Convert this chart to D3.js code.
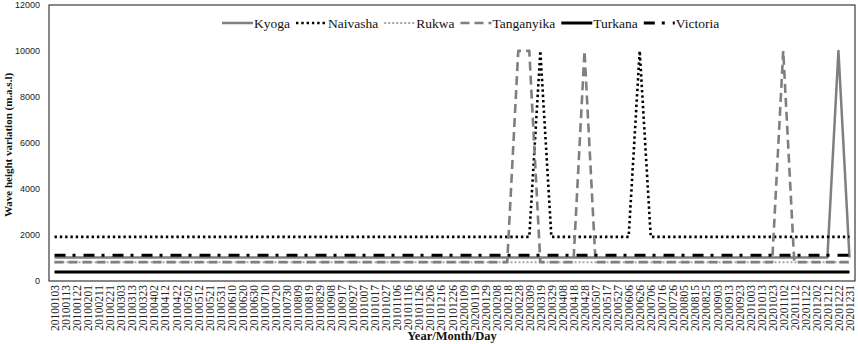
<!DOCTYPE html>
<html>
<head>
<meta charset="utf-8">
<script src="https://cdn.jsdelivr.net/npm/d3@7"></script>
<style>
  body { margin: 0; background: #fff; }
  svg { display: block; }
</style>
</head>
<body>
<div id="main"></div>
<script>
// x categories (tick labels, one per data point)
var dates = [
    "20100103", "20100113", "20100122", "20100201", "20100211", "20100221", "20100303", "20100313", "20100323", "20100402",
    "20100412", "20100422", "20100502", "20100512", "20100521", "20100531", "20100610", "20100620", "20100630", "20100710",
    "20100720", "20100730", "20100809", "20100819", "20100829", "20100908", "20100917", "20100927", "20101007", "20101017",
    "20101027", "20101106", "20101116", "20101126", "20101206", "20101216", "20101226", "20200109", "20200119", "20200129",
    "20200208", "20200218", "20200228", "20200309", "20200319", "20200329", "20200408", "20200418", "20200428", "20200507",
    "20200517", "20200527", "20200606", "20200626", "20200706", "20200716", "20200726", "20200805", "20200815", "20200825",
    "20200903", "20200913", "20200923", "20201003", "20201013", "20201023", "20201102", "20201112", "20201122", "20201202",
    "20201212", "20201222", "20201231"
];

var kyoga = [
    1000, 1000, 1000, 1000, 1000, 1000, 1000, 1000, 1000, 1000,
    1000, 1000, 1000, 1000, 1000, 1000, 1000, 1000, 1000, 1000,
    1000, 1000, 1000, 1000, 1000, 1000, 1000, 1000, 1000, 1000,
    1000, 1000, 1000, 1000, 1000, 1000, 1000, 1000, 1000, 1000,
    1000, 1000, 1000, 1000, 1000, 1000, 1000, 1000, 1000, 1000,
    1000, 1000, 1000, 1000, 1000, 1000, 1000, 1000, 1000, 1000,
    1000, 1000, 1000, 1000, 1000, 1000, 1000, 1000, 1000, 1000,
    1000, 10000, 1000
];

var naivasha = [
    1900, 1900, 1900, 1900, 1900, 1900, 1900, 1900, 1900, 1900,
    1900, 1900, 1900, 1900, 1900, 1900, 1900, 1900, 1900, 1900,
    1900, 1900, 1900, 1900, 1900, 1900, 1900, 1900, 1900, 1900,
    1900, 1900, 1900, 1900, 1900, 1900, 1900, 1900, 1900, 1900,
    1900, 1900, 1900, 1900, 10000, 1900, 1900, 1900, 1900, 1900,
    1900, 1900, 1900, 10000, 1900, 1900, 1900, 1900, 1900, 1900,
    1900, 1900, 1900, 1900, 1900, 1900, 1900, 1900, 1900, 1900,
    1900, 1900, 1900
];

var rukwa = [
    800, 800, 800, 800, 800, 800, 800, 800, 800, 800,
    800, 800, 800, 800, 800, 800, 800, 800, 800, 800,
    800, 800, 800, 800, 800, 800, 800, 800, 800, 800,
    800, 800, 800, 800, 800, 800, 800, 800, 800, 800,
    800, 800, 800, 800, 800, 800, 800, 800, 800, 800,
    800, 800, 800, 800, 800, 800, 800, 800, 800, 800,
    800, 800, 800, 800, 800, 800, 800, 800, 800, 800,
    800, 800, 800
];

var tanganyika = [
    800, 800, 800, 800, 800, 800, 800, 800, 800, 800,
    800, 800, 800, 800, 800, 800, 800, 800, 800, 800,
    800, 800, 800, 800, 800, 800, 800, 800, 800, 800,
    800, 800, 800, 800, 800, 800, 800, 800, 800, 800,
    800, 800, 10000, 10000, 800, 800, 800, 800, 10000, 800,
    800, 800, 800, 800, 800, 800, 800, 800, 800, 800,
    800, 800, 800, 800, 800, 800, 10000, 800, 800, 800,
    800, 800, 800
];

var turkana = [
    370, 370, 370, 370, 370, 370, 370, 370, 370, 370,
    370, 370, 370, 370, 370, 370, 370, 370, 370, 370,
    370, 370, 370, 370, 370, 370, 370, 370, 370, 370,
    370, 370, 370, 370, 370, 370, 370, 370, 370, 370,
    370, 370, 370, 370, 370, 370, 370, 370, 370, 370,
    370, 370, 370, 370, 370, 370, 370, 370, 370, 370,
    370, 370, 370, 370, 370, 370, 370, 370, 370, 370,
    370, 370, 370
];

var victoria = [
    1100, 1100, 1100, 1100, 1100, 1100, 1100, 1100, 1100, 1100,
    1100, 1100, 1100, 1100, 1100, 1100, 1100, 1100, 1100, 1100,
    1100, 1100, 1100, 1100, 1100, 1100, 1100, 1100, 1100, 1100,
    1100, 1100, 1100, 1100, 1100, 1100, 1100, 1100, 1100, 1100,
    1100, 1100, 1100, 1100, 1100, 1100, 1100, 1100, 1100, 1100,
    1100, 1100, 1100, 1100, 1100, 1100, 1100, 1100, 1100, 1100,
    1100, 1100, 1100, 1100, 1100, 1100, 1100, 1100, 1100, 1100,
    1100, 1100, 1100
];

var yTicks = [0, 2000, 4000, 6000, 8000, 10000, 12000];

var series = [
    { name: "Kyoga", values: kyoga, color: "#7f7f7f", width: 2.5, dash: null },
    { name: "Naivasha", values: naivasha, color: "#000", width: 2.6, dash: "2.4 2.9" },
    { name: "Rukwa", values: rukwa, color: "#a6a6a6", width: 2, dash: "2 2" },
    { name: "Tanganyika", values: tanganyika, color: "#7f7f7f", width: 2.6, dash: "9 5" },
    { name: "Turkana", values: turkana, color: "#000", width: 3, dash: null },
    { name: "Victoria", values: victoria, color: "#000", width: 3, dash: "11 7 3 8" }
];

var ctx = {
    w: 858,
    h: 344,
    left: 49,
    right: 855,
    top: 5,
    bottom: 281
};

var svg = d3.select("#main").append("svg")
    .attr("width", ctx.w)
    .attr("height", ctx.h);

var x = d3.scalePoint()
    .domain(dates)
    .range([ctx.left, ctx.right])
    .padding(0.5);

var y = d3.scaleLinear()
    .domain([0, 12000])
    .range([ctx.bottom - 0.5, ctx.top]);

// plot frame
svg.append("rect")
    .attr("x", ctx.left)
    .attr("y", ctx.top)
    .attr("width", ctx.right - ctx.left)
    .attr("height", ctx.bottom - ctx.top)
    .attr("fill", "none")
    .attr("stroke", "#3a3a3a")
    .attr("stroke-width", 1.2);

// y axis
var yAxis = svg.append("g")
    .attr("transform", "translate(" + ctx.left + ",0)")
    .call(d3.axisLeft(y).tickValues(yTicks).tickSize(0).tickPadding(9).tickFormat(d3.format("d")));
yAxis.select(".domain").remove();
yAxis.selectAll("text")
    .style("font-family", "'Liberation Sans', Arial, sans-serif")
    .style("font-size", "9px")
    .attr("fill", "#222");

// x axis
var xAxis = svg.append("g")
    .attr("transform", "translate(0," + ctx.bottom + ")")
    .call(d3.axisBottom(x).tickSize(0));
xAxis.select(".domain").remove();
xAxis.selectAll("text")
    .attr("transform", "rotate(-90)")
    .attr("text-anchor", "end")
    .attr("x", -4)
    .attr("y", 0)
    .attr("dy", "0.35em")
    .style("font-family", "'Liberation Serif', 'Times New Roman', serif")
    .style("font-size", "11.5px")
    .attr("fill", "#222");

// lines
var line = d3.line()
    .x(function (d, i) { return x(dates[i]); })
    .y(function (d) { return y(d); });

series.forEach(function (s) {
    svg.append("path")
        .datum(s.values)
        .attr("d", line)
        .attr("fill", "none")
        .attr("stroke", s.color)
        .attr("stroke-width", s.width)
        .attr("stroke-dasharray", s.dash)
        .attr("stroke-linejoin", "round");
});

// legend
var legend = svg.append("g").attr("transform", "translate(0,23)");
var lx = 222;
series.forEach(function (s) {
    legend.append("line")
        .attr("x1", lx)
        .attr("x2", lx + 31)
        .attr("y1", 0)
        .attr("y2", 0)
        .attr("stroke", s.color)
        .attr("stroke-width", s.width)
        .attr("stroke-dasharray", s.dash);
    var t = legend.append("text")
        .attr("x", lx + 32)
        .attr("y", 5)
        .style("font-family", "'Liberation Serif', 'Times New Roman', serif")
        .style("font-size", "13.5px")
        .attr("fill", "#111")
        .text(s.name);
    lx += 32 + t.node().getComputedTextLength() + 6;
});

// axis titles
svg.append("text")
    .attr("x", (ctx.left + ctx.right) / 2)
    .attr("y", 340)
    .attr("text-anchor", "middle")
    .style("font-family", "'Liberation Serif', 'Times New Roman', serif")
    .style("font-size", "12.5px")
    .style("font-weight", "bold")
    .attr("fill", "#111")
    .text("Year/Month/Day");

svg.append("text")
    .attr("transform", "translate(12,145) rotate(-90)")
    .attr("text-anchor", "middle")
    .style("font-family", "'Liberation Serif', 'Times New Roman', serif")
    .style("font-size", "11px")
    .style("font-weight", "bold")
    .attr("fill", "#111")
    .text("Wave height variation (m.a.s.l)");
</script>
</body>
</html>
